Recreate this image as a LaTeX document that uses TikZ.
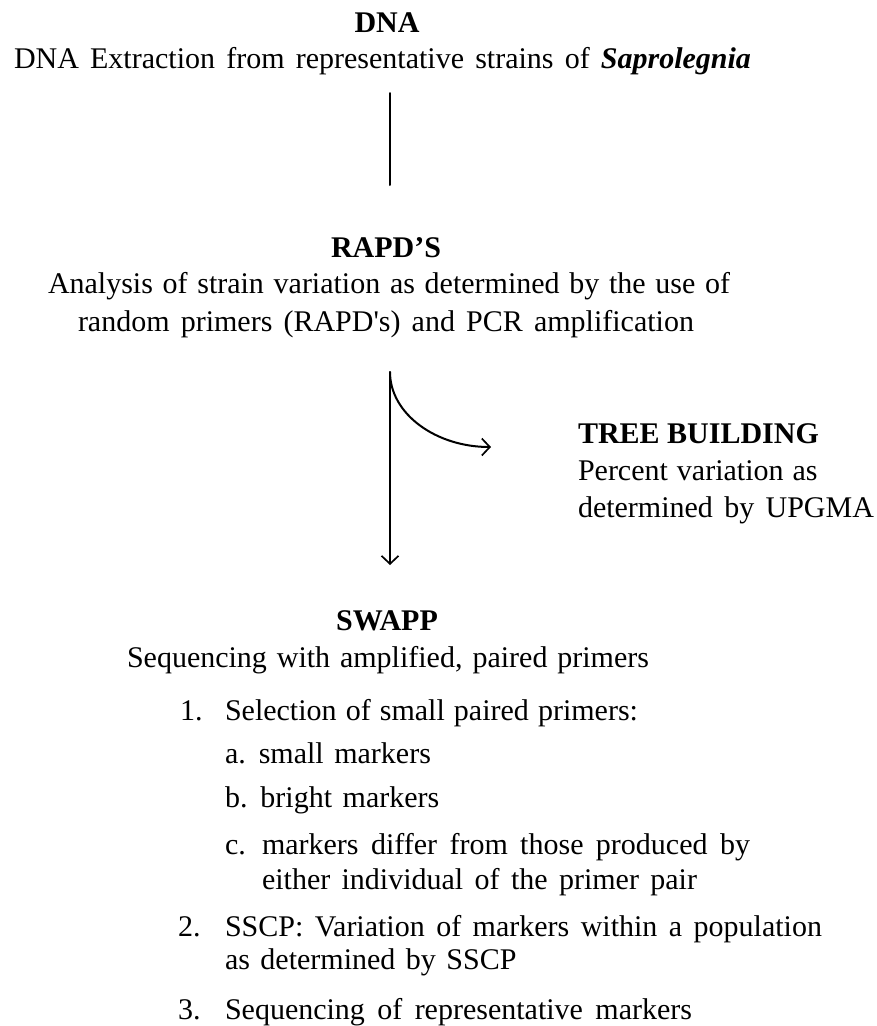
\documentclass[tikz,border=0pt]{standalone}
\usepackage{fontspec}
\setmainfont{Liberation Serif}
\usetikzlibrary{arrows.meta}
\newcommand{\wsp}{\spaceskip=0.35em plus 0.5em minus 0.05em\relax}
\newcommand{\fitw}[2]{\makebox[#1pt][s]{#2}}
\begin{document}
\begin{tikzpicture}[x=1pt,y=-1pt,
  every node/.style={inner sep=0pt,outer sep=0pt,font=\fontsize{30}{36}\selectfont\wsp},
  head/.style={anchor=base,font=\fontsize{30}{36}\selectfont\bfseries},
  txt/.style={anchor=base west},
  link/.style={line width=2pt,line cap=round},
  tip/.style={-{Straight Barb[length=8pt,width=17pt,line width=1.7pt]}}]
\useasboundingbox (0,0) rectangle (877,1026);
% DNA
\node[head] (dnah) at (387,32) {DNA};
\node[txt] (dnat) at (14,68) {\fitw{737}{DNA Extraction from representative strains of \textbf{\textit{Saprolegnia}}}};
\coordinate (l1a) at (390,93);
\coordinate (l1b) at (390,185);
\draw[link] (l1a) -- (l1b);
% RAPD
\node[head] (raph) at (386,257) {RAPD’S};
\node[txt] (rap1) at (48,293) {\fitw{682}{Analysis of strain variation as determined by the use of}};
\node[txt] (rap2) at (78,331) {\fitw{616}{random primers (RAPD\textquotesingle s) and PCR amplification}};
% arrows
\coordinate (split) at (390,372);
\coordinate (down) at (390,565);
\coordinate (right) at (491,447);
\draw[link,tip] (split) -- (down);
\draw[link,tip] (split) .. controls (390,414) and (436,447) .. (right);
% TREE
\node[txt,font=\fontsize{30}{36}\selectfont\bfseries] (treeh) at (578,443) {TREE BUILDING};
\node[txt] (tree1) at (578,480) {\fitw{234}{Percent variation as}};
\node[txt] (tree2) at (578,517) {\fitw{296}{determined by UPGMA}};
% SWAPP
\node[head] (swh) at (387,630) {SWAPP};
\node[txt] (sw1) at (127,667) {\fitw{522}{Sequencing with amplified, paired primers}};
\node[txt] (n1) at (180,720) {1.};
\node[txt] (i1) at (225,720) {\fitw{413}{Selection of small paired primers:}};
\node[txt] (ia) at (225,763) {a. small markers};
\node[txt] (ib) at (225,807) {b. bright markers};
\node[txt] (ic) at (225,854) {c.};
\node[txt] (ic1) at (262,854) {\fitw{488}{markers differ from those produced by}};
\node[txt] (ic2) at (262,889) {\fitw{435}{either individual of the primer pair}};
\node[txt] (n2) at (178,936) {2.};
\node[txt] (i2) at (225,936) {\fitw{597}{SSCP: Variation of markers within a population}};
\node[txt] (i2b) at (225,969) {as determined by SSCP};
\node[txt] (n3) at (178,1019) {3.};
\node[txt] (i3) at (225,1019) {\fitw{467}{Sequencing of representative markers}};
\end{tikzpicture}
\end{document}
